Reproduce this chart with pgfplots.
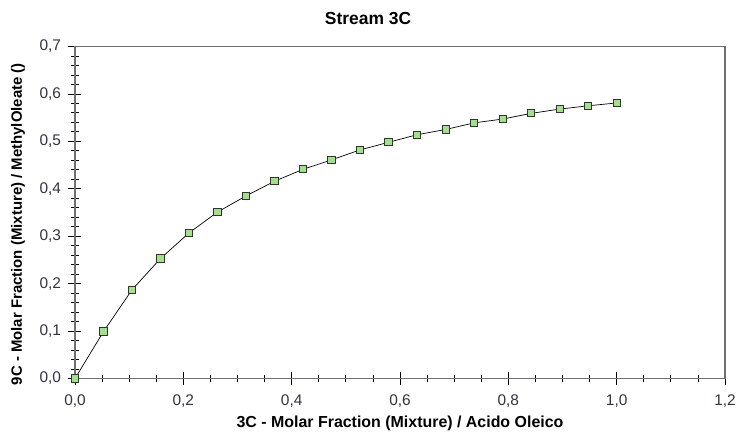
\documentclass[border=0pt]{standalone}
\usepackage{pgfplots}
\pgfplotsset{compat=1.18}
\usepackage{fontspec}
\setmainfont{Liberation Sans}
\definecolor{axgray}{HTML}{707070}
\definecolor{tickc}{HTML}{303440}
\definecolor{mfill}{HTML}{A2E08E}
\definecolor{medge}{HTML}{333333}
\pgfplotstableread{
x y
0.000000 0.000
0.052632 0.099
0.105263 0.187
0.157895 0.253
0.210526 0.307
0.263158 0.351
0.315789 0.385
0.368421 0.416
0.421053 0.441
0.473684 0.461
0.526316 0.482
0.578947 0.498
0.631579 0.514
0.684211 0.525
0.736842 0.539
0.789474 0.547
0.842105 0.559
0.894737 0.568
0.947368 0.575
1.000000 0.581
}\datatable
\begin{document}
\begin{tikzpicture}
\pgfplotsset{
  commonax/.style={
    at={(0,0)}, anchor=south west,
    scale only axis, width=650bp, height=332bp,
    xmin=0, xmax=1.2, ymin=0, ymax=0.7,
    xtick={0,0.2,...,1.21}, ytick={0,0.1,...,0.71},
    minor x tick num=3, minor y tick num=4,
    every tick/.style={draw=black, line width=0.8bp},
  }
}
\begin{axis}[commonax,
  axis lines=none,
  xtick pos=top, ytick pos=right,
  tick align=inside,
  major tick length=6bp, minor tick length=4bp,
  xticklabels={}, yticklabels={},
]
\end{axis}
\begin{axis}[commonax,
  axis line style={draw=none},
  xtick pos=bottom, ytick pos=left,
  tick align=center,
  major tick length=13bp, minor tick length=8bp,
  /pgf/number format/assume math mode=true,
  /pgf/number format/use comma,
  /pgf/number format/fixed,
  /pgf/number format/fixed zerofill,
  /pgf/number format/precision=1,
  tick label style={font=\fontsize{15.5}{17}\selectfont, text=tickc},
  xticklabel style={yshift=-6bp},
  yticklabel style={xshift=-4bp},
  title={Stream 3C},
  title style={font=\bfseries\fontsize{17.5}{19}\selectfont, at={(axis description cs:0.4508,1)}, anchor=south, yshift=12bp},
  xlabel={3C - Molar Fraction (Mixture) / Acido Oleico},
  ylabel={9C - Molar Fraction (Mixture) / MethylOleate ()},
  xlabel style={font=\bfseries\fontsize{16}{18}\selectfont, at={(axis description cs:0.5,-0.1355)}, anchor=center},
  ylabel style={font=\bfseries\fontsize{15}{17}\selectfont, at={(axis description cs:-0.0877,0.465)}, anchor=center},
  clip=false,
]
\draw[axgray, line width=1.2bp] (rel axis cs:0,0) rectangle (rel axis cs:1,1);
\addplot[black, line width=0.7bp, mark=square*, mark size=3.6bp,
  mark options={fill=mfill, draw=medge, line width=1bp}] table[x=x,y=y] {\datatable};
\end{axis}
\pgfresetboundingbox
\path[use as bounding box] (-75bp,-56.5bp) rectangle (661bp,378.5bp);
\end{tikzpicture}
\end{document}
